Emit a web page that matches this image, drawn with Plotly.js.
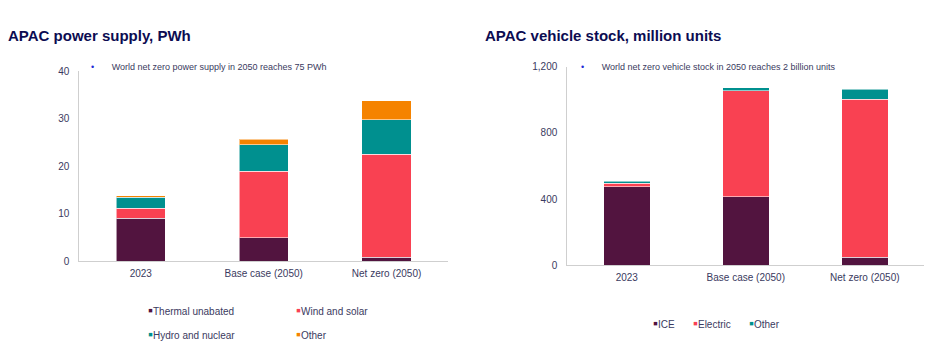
<!DOCTYPE html>
<html>
<head>
<meta charset="utf-8">
<script src="https://cdn.plot.ly/plotly-3.0.1.min.js"></script>
<style>html,body{margin:0;padding:0;background:#fff;}#chart{width:940px;height:350px;}</style>
</head>
<body>
<div id="chart"></div>
<script>
// ---- Data ----
const categories = ["2023", "Base case (2050)", "Net zero (2050)"];

// APAC power supply, PWh
const powerThermal = [9.0, 5.0, 0.85];
const powerWindSolar = [2.1, 13.95, 21.7];
const powerHydroNuclear = [2.4, 5.6, 7.2];
const powerOther = [0.25, 1.15, 4.0];
const powerTicks = [0, 10, 20, 30, 40];

// APAC vehicle stock, million units
const vehicleICE = [475, 415, 50];
const vehicleElectric = [22, 640, 954];
const vehicleOther = [10, 18, 59];
const vehicleTicks = [0, 400, 800, 1200];

const powerNames = ["Thermal unabated", "Wind and solar", "Hydro and nuclear", "Other"];
const vehicleNames = ["ICE", "Electric", "Other"];

// ---- Styles ----
const C = {thermal: "#52143f", wind: "#f94152", hydro: "#00908f", other: "#f58300"};
const FONT = "Liberation Sans, Arial, sans-serif";
const TXT = "#3a3a60";
const W = 940, H = 350;
const px = v => v / W;
const py = v => 1 - v / H;
const edge = {color: "rgba(255,255,255,0.55)", width: 1};

function bar(y, name, color, xa, ya, width) {
  return {type: "bar", x: categories, y: y, name: name, xaxis: xa, yaxis: ya,
    width: width, marker: {color: color, line: edge}, showlegend: false,
    hovertemplate: name + ": %{y}<extra></extra>"};
}

const traces = [
  bar(powerThermal, powerNames[0], C.thermal, "x", "y", 0.4),
  bar(powerWindSolar, powerNames[1], C.wind, "x", "y", 0.4),
  bar(powerHydroNuclear, powerNames[2], C.hydro, "x", "y", 0.4),
  bar(powerOther, powerNames[3], C.other, "x", "y", 0.4),
  bar(vehicleICE, vehicleNames[0], C.thermal, "x2", "y2", 0.39),
  bar(vehicleElectric, vehicleNames[1], C.wind, "x2", "y2", 0.39),
  bar(vehicleOther, vehicleNames[2], C.hydro, "x2", "y2", 0.39)
];

const xaxisBase = {type: "category", showgrid: false, zeroline: false, showline: true,
  linecolor: "#cfcfcf", linewidth: 1, ticks: "", tickfont: {family: FONT, size: 10, color: TXT},
  ticklabelstandoff: 3, fixedrange: true};
const yaxisBase = {showgrid: false, zeroline: false, showline: true, linecolor: "#cfcfcf",
  linewidth: 1, ticks: "", tickfont: {family: FONT, size: 10, color: TXT}, ticklabelstandoff: 7,
  tickmode: "array", fixedrange: true};

function legendItem(x, y, color, label) {
  return {xref: "paper", yref: "paper", x: px(x), y: py(y), xanchor: "left", yanchor: "middle",
    showarrow: false, align: "left",
    text: '<span style="color:' + color + ';font-size:14px">▪</span>' + label,
    font: {family: FONT, size: 10, color: TXT}};
}

const annotations = [
  {xref: "paper", yref: "paper", x: px(6), y: py(35.5), xanchor: "left", yanchor: "middle",
    showarrow: false, text: "<b>APAC power supply, PWh</b>", font: {family: FONT, size: 15, color: "#0c0c52"}},
  {xref: "paper", yref: "paper", x: px(483), y: py(35.5), xanchor: "left", yanchor: "middle",
    showarrow: false, text: "<b>APAC vehicle stock, million units</b>", font: {family: FONT, size: 15, color: "#0c0c52"}},
  {xref: "paper", yref: "paper", x: px(89), y: py(66.7), xanchor: "left", yanchor: "middle",
    showarrow: false, text: '<span style="color:#1f2bd6">•</span>       World net zero power supply in 2050 reaches 75 PWh',
    font: {family: FONT, size: 9, color: TXT}},
  {xref: "paper", yref: "paper", x: px(579), y: py(66.7), xanchor: "left", yanchor: "middle",
    showarrow: false, text: '<span style="color:#1f2bd6">•</span>       World net zero vehicle stock in 2050 reaches 2 billion units',
    font: {family: FONT, size: 9, color: TXT}},
  legendItem(146, 310, C.thermal, powerNames[0]),
  legendItem(294, 310, C.wind, powerNames[1]),
  legendItem(146, 334, C.hydro, powerNames[2]),
  legendItem(294, 334, C.other, powerNames[3]),
  legendItem(651, 323, C.thermal, vehicleNames[0]),
  legendItem(691, 323, C.wind, vehicleNames[1]),
  legendItem(747, 323, C.hydro, vehicleNames[2])
];

const layout = {
  width: W, height: H, margin: {l: 0, r: 0, t: 0, b: 0},
  paper_bgcolor: "#ffffff", plot_bgcolor: "#ffffff",
  barmode: "stack", showlegend: false,
  font: {family: FONT, color: TXT},
  xaxis: Object.assign({}, xaxisBase, {domain: [px(79.3), px(448)], anchor: "y"}),
  yaxis: Object.assign({}, yaxisBase, {domain: [py(261.3), py(71)], anchor: "x", range: [0, 40],
    tickvals: powerTicks, ticktext: powerTicks.map(String)}),
  xaxis2: Object.assign({}, xaxisBase, {domain: [px(567.3), px(924.3)], anchor: "y2"}),
  yaxis2: Object.assign({}, yaxisBase, {domain: [py(265.3), py(66.7)], anchor: "x2", range: [0, 1200],
    tickvals: vehicleTicks, ticktext: vehicleTicks.map(v => v.toLocaleString("en-US"))}),
  annotations: annotations
};

Plotly.newPlot("chart", traces, layout, {displayModeBar: false, staticPlot: true});
</script>
</body>
</html>
